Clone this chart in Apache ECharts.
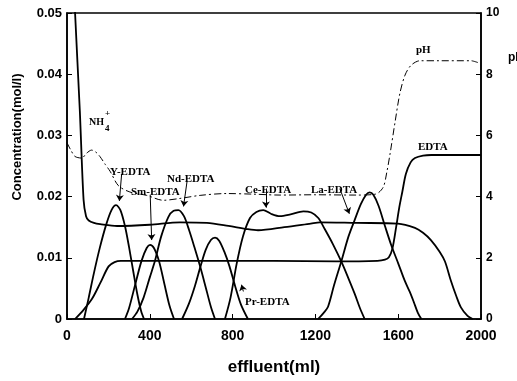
<!DOCTYPE html>
<html>
<head>
<meta charset="utf-8">
<script src="https://cdn.jsdelivr.net/npm/echarts@6/dist/echarts.min.js"></script>
<style>
    html, body { margin: 0; padding: 0; background: #fff; }
    #chart { width: 517px; height: 381px; }
</style>
</head>
<body>
<div id="chart"></div>
<script>
// Elution curves of rare-earth EDTA complexes, [effluent ml, value]

const xTicks = [0, 400, 800, 1200, 1600, 2000];
const concTicks = [0, 0.01, 0.02, 0.03, 0.04, 0.05];
const phTicks = [0, 2, 4, 6, 8, 10];

const nh4 = [[25, 0.062], [39, 0.05], [62, 0.034], [80, 0.0195], [92, 0.0168], [105, 0.0161],
    [130, 0.0157], [160, 0.0155], [242, 0.0152], [400, 0.0154], [546, 0.0158], [676, 0.0157],
    [780, 0.0152], [868, 0.0147], [923, 0.0145], [1050, 0.015], [1178, 0.0156], [1222, 0.0158],
    [1400, 0.0157], [1599, 0.0156], [1681, 0.0149], [1720, 0.0141], [1758, 0.0129], [1800, 0.011],
    [1826, 0.0094], [1855, 0.0062], [1880, 0.0038], [1903, 0.0019], [1935, 0.0005], [1960, 0]];

const edta = [[39, 0], [80, 0.0015], [121, 0.0033], [161, 0.0059], [201, 0.0086], [230, 0.0093],
    [260, 0.0095], [600, 0.0095], [1000, 0.0095], [1300, 0.0094], [1500, 0.0095], [1536, 0.0097],
    [1555, 0.0101], [1572, 0.0115], [1590, 0.015], [1605, 0.0182], [1620, 0.0208], [1637, 0.0237],
    [1660, 0.0256], [1681, 0.0263], [1720, 0.0267], [1760, 0.0268], [2000, 0.0268]];

const yEdta = [[82, 0], [105, 0.0035], [130, 0.0075], [159, 0.0117], [190, 0.0155], [215, 0.0178],
    [237, 0.0186], [258, 0.0178], [280, 0.0152], [300, 0.0117], [320, 0.0078], [340, 0.004],
    [358, 0.0013], [372, 0]];

const smEdta = [[280, 0], [300, 0.0018], [330, 0.0057], [360, 0.0095], [385, 0.0116], [401, 0.0121],
    [420, 0.0116], [445, 0.0094], [470, 0.0058], [495, 0.0022], [517, 0]];

const ndEdta = [[314, 0], [340, 0.0012], [370, 0.0035], [400, 0.0068], [425, 0.0095], [455, 0.0135],
    [490, 0.0167], [515, 0.0177], [538, 0.0178], [565, 0.0168], [590, 0.0145], [615, 0.0118],
    [643, 0.0086], [670, 0.0052], [695, 0.002], [715, 0]];

const prEdta = [[556, 0], [590, 0.0026], [618, 0.0054], [645, 0.0086], [670, 0.0113], [695, 0.0129],
    [715, 0.0133], [735, 0.0128], [760, 0.011], [785, 0.0086], [812, 0.0054], [840, 0.0024], [874, 0]];

const ceEdta = [[763, 0], [790, 0.0035], [820, 0.0091], [850, 0.0135], [884, 0.0165], [915, 0.0175],
    [948, 0.0178], [985, 0.0172], [1029, 0.0168], [1080, 0.0171], [1142, 0.0176], [1180, 0.0174],
    [1214, 0.0165], [1245, 0.0147], [1285, 0.0122], [1325, 0.0094], [1360, 0.0066], [1390, 0.0041],
    [1415, 0.0018], [1438, 0]];

const laEdta = [[1213, 0], [1240, 0.001], [1261, 0.002], [1290, 0.0055], [1325, 0.0094], [1360, 0.0135],
    [1390, 0.0162], [1420, 0.0188], [1445, 0.0203], [1462, 0.0207], [1480, 0.0203], [1505, 0.0185],
    [1536, 0.0152], [1567, 0.012], [1600, 0.0091], [1631, 0.0063], [1655, 0.0045], [1675, 0.0028],
    [1695, 0.001], [1712, 0]];

const ph = [[0, 5.76], [20, 5.5], [39, 5.31], [71, 5.26], [95, 5.42], [119, 5.52], [140, 5.45],
    [159, 5.31], [185, 5.05], [208, 4.83], [248, 4.36], [304, 4.15], [385, 4.04], [465, 3.88],
    [546, 3.94], [643, 4.04], [771, 4.1], [900, 4.08], [1030, 4.05], [1200, 4.06], [1400, 4.05],
    [1490, 4.08], [1527, 4.3], [1545, 4.8], [1560, 5.37], [1584, 6.4], [1608, 7.37], [1633, 7.97],
    [1662, 8.29], [1705, 8.44], [1800, 8.44], [1951, 8.44], [1985, 8.38]];

// arrows from labels to peaks: [from, to] in [ml, mol/l]
const arrows = [
    [[264, 0.0237], [253, 0.0193]],
    [[402, 0.0203], [409, 0.0129]],
    [[580, 0.0225], [563, 0.0184]],
    [[961, 0.0212], [961, 0.0182]],
    [[1318, 0.0213], [1364, 0.0172]],
    [[852, 0.0045], [843, 0.0056]],
];

const INK = "#000";
const tickFont = { color: INK, fontFamily: "Liberation Sans", fontWeight: "bold" };

function curve(name, data, extra = {}) {
    return {
        name,
        type: "line",
        data,
        showSymbol: false,
        smooth: 0.3,
        clip: true,
        silent: true,
        lineStyle: { color: INK, width: 1.8 },
        ...extra,
    };
}

function note(text, x, y, size = 11, family = "Liberation Serif", rotation = 0, align = "left") {
    return {
        type: "text",
        x,
        y,
        rotation,
        silent: true,
        style: {
            text,
            fill: INK,
            font: `bold ${size}px '${family}'`,
            align,
            textAlign: align,
            verticalAlign: "middle",
            textVerticalAlign: "middle",
        },
    };
}

const chart = echarts.init(document.getElementById("chart"), null, { renderer: "canvas" });

chart.setOption({
    animation: false,
    backgroundColor: "#fff",
    grid: {
        left: 67, right: 36, top: 13, bottom: 52,
        show: true, borderColor: INK, borderWidth: 1.5,
    },
    xAxis: {
        type: "value",
        min: xTicks[0],
        max: xTicks[xTicks.length - 1],
        interval: xTicks[1] - xTicks[0],
        name: "effluent(ml)",
        nameLocation: "middle",
        nameGap: 40,
        nameTextStyle: { ...tickFont, fontSize: 17 },
        axisLine: { lineStyle: { color: INK, width: 1.6 } },
        axisTick: { inside: true, length: 5, lineStyle: { color: INK } },
        axisLabel: { ...tickFont, fontSize: 14, margin: 10, formatter: (v) => String(v) },
        splitLine: { show: false },
    },
    yAxis: [
        {
            type: "value",
            min: concTicks[0],
            max: concTicks[concTicks.length - 1],
            interval: concTicks[1] - concTicks[0],
            axisLine: { show: true, lineStyle: { color: INK, width: 1.6 } },
            axisTick: { inside: true, length: 5, lineStyle: { color: INK } },
            axisLabel: {
                ...tickFont, fontSize: 13, margin: 5,
                formatter: (v) => (v === 0 ? "0" : v.toFixed(2)),
            },
            splitLine: { show: false },
        },
        {
            type: "value",
            position: "right",
            min: phTicks[0],
            max: phTicks[phTicks.length - 1],
            interval: phTicks[1] - phTicks[0],
            axisLine: { show: true, lineStyle: { color: INK, width: 1.6 } },
            axisTick: { inside: true, length: 5, lineStyle: { color: INK } },
            axisLabel: { ...tickFont, fontSize: 12, margin: 5 },
            splitLine: { show: false },
        },
    ],
    series: [
        curve("NH4+", nh4, {
            markLine: {
                silent: true,
                symbol: ["none", "arrow"],
                symbolSize: 6,
                label: { show: false },
                lineStyle: { color: INK, width: 1, type: "solid" },
                data: arrows.map(([a, b]) => [{ coord: a }, { coord: b }]),
            },
        }),
        curve("EDTA", edta),
        curve("Y-EDTA", yEdta),
        curve("Sm-EDTA", smEdta),
        curve("Nd-EDTA", ndEdta),
        curve("Pr-EDTA", prEdta),
        curve("Ce-EDTA", ceEdta),
        curve("La-EDTA", laEdta),
        curve("pH", ph, {
            yAxisIndex: 1,
            lineStyle: { color: INK, width: 1, type: [7, 3, 2, 3] },
        }),
    ],
    graphic: [
        note("Concentration(mol/l)", 17, 137, 13, "Liberation Sans", Math.PI / 2, "center"),
        note("NH", 89, 122, 10),
        note("+", 105, 114, 9),
        note("4", 105, 129, 9),
        note("Y-EDTA", 110, 172),
        note("Sm-EDTA", 131, 192),
        note("Nd-EDTA", 167, 179),
        note("Ce-EDTA", 245, 190),
        note("La-EDTA", 311, 190),
        note("Pr-EDTA", 245, 302),
        note("pH", 416, 50),
        note("EDTA", 418, 147),
        note("pH", 508, 58, 12, "Liberation Sans"),
    ],
});
</script>
</body>
</html>
